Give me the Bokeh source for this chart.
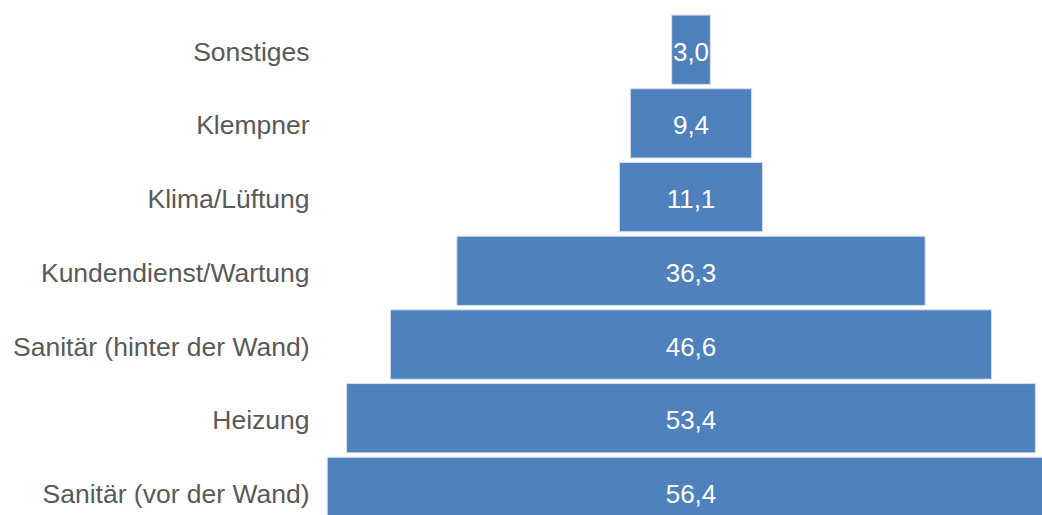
from bokeh.plotting import figure
from bokeh.models import ColumnDataSource, Range1d
from bokeh.core.properties import value
from bokeh.embed import file_html
from bokeh.resources import INLINE

categories = ["Sonstiges", "Klempner", "Klima/Lüftung", "Kundendienst/Wartung",
              "Sanitär (hinter der Wand)", "Heizung", "Sanitär (vor der Wand)"]
values = [3.0, 9.4, 11.1, 36.3, 46.6, 53.4, 56.4]
value_labels = [f"{v:.1f}".replace(".", ",") for v in values]

idx = list(range(len(categories)))
src = ColumnDataSource(dict(
    y=idx,
    left=[-v / 2 for v in values],
    right=[v / 2 for v in values],
    cat=categories,
    lab=value_labels,
    zero=[0] * len(values),
    labx=[-29.57] * len(values),
))

W, H = 1042, 515
p = figure(width=W, height=H, output_backend="svg", toolbar_location=None,
           x_range=Range1d(-53.53, 27.25), y_range=Range1d(6.32, -0.6676),
           x_axis_location=None, y_axis_location=None, min_border=0)
p.outline_line_color = None
p.xgrid.visible = False
p.ygrid.visible = False
p.background_fill_color = "white"
p.border_fill_color = "white"

p.hbar(y="y", left="left", right="right", height=0.94, source=src,
       fill_color="#4F81BD", line_color="#D6E0EE", line_width=1)

p.text(x="labx", y="y", text="cat", source=src, text_align="right",
       text_baseline="middle", text_font=value("Liberation Sans"),
       text_font_size="26.5px", text_color="#595959", y_offset=2)
p.text(x="zero", y="y", text="lab", source=src, text_align="center",
       text_baseline="middle", text_font=value("Liberation Sans"),
       text_font_size="26px", text_color="white", y_offset=2)

open("out.html", "w").write(file_html(p, INLINE))
